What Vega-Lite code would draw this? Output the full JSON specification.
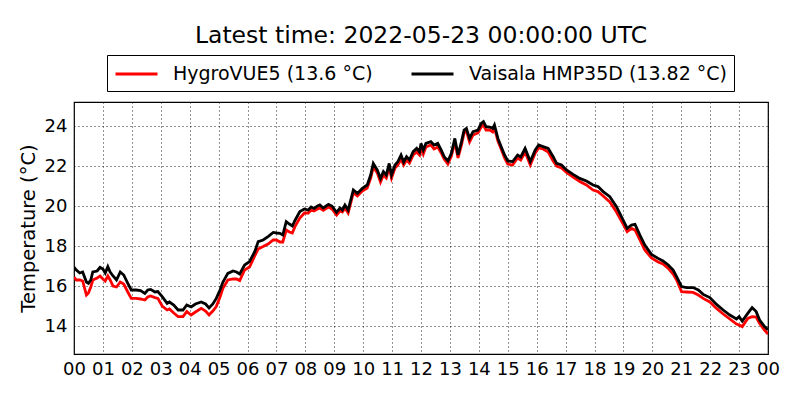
{
  "$schema": "https://vega.github.io/schema/vega-lite/v6.json",
  "width": 694,
  "height": 252,
  "autosize": {"type": "none"},
  "padding": {"left": 74, "top": 102, "right": 32, "bottom": 46},
  "background": "white",
  "title": {
    "text": "Latest time: 2022-05-23 00:00:00 UTC",
    "font": "DejaVu Sans", "fontSize": 23.5, "fontWeight": "normal", "color": "black",
    "anchor": "middle", "frame": "group", "offset": 7
  },
  "data": {
    "values": [
      {"hour": 0.00, "HygroVUE5": 16.45, "Vaisala": 16.95},
      {"hour": 0.08, "HygroVUE5": 16.3, "Vaisala": 16.8},
      {"hour": 0.2, "HygroVUE5": 16.3, "Vaisala": 16.65},
      {"hour": 0.3, "HygroVUE5": 16.25, "Vaisala": 16.7},
      {"hour": 0.43, "HygroVUE5": 15.55, "Vaisala": 16.2},
      {"hour": 0.5, "HygroVUE5": 15.65, "Vaisala": 16.13},
      {"hour": 0.58, "HygroVUE5": 15.95, "Vaisala": 16.3},
      {"hour": 0.65, "HygroVUE5": 16.3, "Vaisala": 16.7},
      {"hour": 0.8, "HygroVUE5": 16.4, "Vaisala": 16.75},
      {"hour": 0.9, "HygroVUE5": 16.5, "Vaisala": 16.93},
      {"hour": 1.0, "HygroVUE5": 16.35, "Vaisala": 16.85},
      {"hour": 1.08, "HygroVUE5": 16.25, "Vaisala": 16.65},
      {"hour": 1.17, "HygroVUE5": 16.5, "Vaisala": 16.97},
      {"hour": 1.25, "HygroVUE5": 16.3, "Vaisala": 16.7},
      {"hour": 1.35, "HygroVUE5": 16.0, "Vaisala": 16.5},
      {"hour": 1.47, "HygroVUE5": 15.95, "Vaisala": 16.3},
      {"hour": 1.6, "HygroVUE5": 16.2, "Vaisala": 16.7},
      {"hour": 1.72, "HygroVUE5": 16.1, "Vaisala": 16.55},
      {"hour": 1.86, "HygroVUE5": 15.7, "Vaisala": 16.13},
      {"hour": 1.98, "HygroVUE5": 15.38, "Vaisala": 15.8},
      {"hour": 2.15, "HygroVUE5": 15.38, "Vaisala": 15.8},
      {"hour": 2.3, "HygroVUE5": 15.35, "Vaisala": 15.77},
      {"hour": 2.45, "HygroVUE5": 15.3, "Vaisala": 15.63},
      {"hour": 2.55, "HygroVUE5": 15.45, "Vaisala": 15.8},
      {"hour": 2.65, "HygroVUE5": 15.5, "Vaisala": 15.83},
      {"hour": 2.8, "HygroVUE5": 15.42, "Vaisala": 15.7},
      {"hour": 2.9, "HygroVUE5": 15.38, "Vaisala": 15.72},
      {"hour": 3.05, "HygroVUE5": 15.0, "Vaisala": 15.47},
      {"hour": 3.22, "HygroVUE5": 14.8, "Vaisala": 15.13},
      {"hour": 3.3, "HygroVUE5": 14.85, "Vaisala": 15.2},
      {"hour": 3.45, "HygroVUE5": 14.65, "Vaisala": 15.05},
      {"hour": 3.6, "HygroVUE5": 14.47, "Vaisala": 14.8},
      {"hour": 3.77, "HygroVUE5": 14.47, "Vaisala": 14.8},
      {"hour": 3.9, "HygroVUE5": 14.72, "Vaisala": 15.05},
      {"hour": 4.05, "HygroVUE5": 14.55, "Vaisala": 14.95},
      {"hour": 4.2, "HygroVUE5": 14.7, "Vaisala": 15.1},
      {"hour": 4.4, "HygroVUE5": 14.88, "Vaisala": 15.2},
      {"hour": 4.55, "HygroVUE5": 14.75, "Vaisala": 15.1},
      {"hour": 4.67, "HygroVUE5": 14.55, "Vaisala": 14.9},
      {"hour": 4.8, "HygroVUE5": 14.75, "Vaisala": 15.1},
      {"hour": 4.92, "HygroVUE5": 14.97, "Vaisala": 15.38},
      {"hour": 5.05, "HygroVUE5": 15.45, "Vaisala": 15.8},
      {"hour": 5.15, "HygroVUE5": 15.88, "Vaisala": 16.2},
      {"hour": 5.32, "HygroVUE5": 16.3, "Vaisala": 16.63},
      {"hour": 5.5, "HygroVUE5": 16.35, "Vaisala": 16.75},
      {"hour": 5.62, "HygroVUE5": 16.35, "Vaisala": 16.7},
      {"hour": 5.73, "HygroVUE5": 16.27, "Vaisala": 16.6},
      {"hour": 5.9, "HygroVUE5": 16.8, "Vaisala": 17.05},
      {"hour": 6.07, "HygroVUE5": 16.95, "Vaisala": 17.22},
      {"hour": 6.25, "HygroVUE5": 17.5, "Vaisala": 17.72},
      {"hour": 6.37, "HygroVUE5": 17.85, "Vaisala": 18.22},
      {"hour": 6.54, "HygroVUE5": 17.97, "Vaisala": 18.3},
      {"hour": 6.71, "HygroVUE5": 18.1, "Vaisala": 18.47},
      {"hour": 6.89, "HygroVUE5": 18.3, "Vaisala": 18.68},
      {"hour": 7.0, "HygroVUE5": 18.3, "Vaisala": 18.65},
      {"hour": 7.12, "HygroVUE5": 18.2, "Vaisala": 18.63},
      {"hour": 7.22, "HygroVUE5": 18.2, "Vaisala": 18.55},
      {"hour": 7.34, "HygroVUE5": 18.8, "Vaisala": 19.22},
      {"hour": 7.45, "HygroVUE5": 18.7, "Vaisala": 19.1},
      {"hour": 7.55, "HygroVUE5": 18.65, "Vaisala": 19.0},
      {"hour": 7.65, "HygroVUE5": 19.0, "Vaisala": 19.3},
      {"hour": 7.81, "HygroVUE5": 19.4, "Vaisala": 19.72},
      {"hour": 7.97, "HygroVUE5": 19.65, "Vaisala": 19.85},
      {"hour": 8.1, "HygroVUE5": 19.65, "Vaisala": 19.8},
      {"hour": 8.2, "HygroVUE5": 19.8, "Vaisala": 19.95},
      {"hour": 8.3, "HygroVUE5": 19.75, "Vaisala": 19.88},
      {"hour": 8.42, "HygroVUE5": 19.85, "Vaisala": 20.0},
      {"hour": 8.5, "HygroVUE5": 19.9, "Vaisala": 20.05},
      {"hour": 8.62, "HygroVUE5": 19.78, "Vaisala": 19.9},
      {"hour": 8.8, "HygroVUE5": 19.95, "Vaisala": 20.08},
      {"hour": 8.92, "HygroVUE5": 19.85, "Vaisala": 20.0},
      {"hour": 9.08, "HygroVUE5": 19.55, "Vaisala": 19.68},
      {"hour": 9.2, "HygroVUE5": 19.75, "Vaisala": 19.9},
      {"hour": 9.28, "HygroVUE5": 19.7, "Vaisala": 19.8},
      {"hour": 9.37, "HygroVUE5": 19.9, "Vaisala": 20.05},
      {"hour": 9.48, "HygroVUE5": 19.65, "Vaisala": 19.8},
      {"hour": 9.66, "HygroVUE5": 20.65, "Vaisala": 20.8},
      {"hour": 9.8, "HygroVUE5": 20.5, "Vaisala": 20.63},
      {"hour": 9.97, "HygroVUE5": 20.75, "Vaisala": 20.88},
      {"hour": 10.14, "HygroVUE5": 20.9, "Vaisala": 21.05},
      {"hour": 10.26, "HygroVUE5": 21.4, "Vaisala": 21.55},
      {"hour": 10.35, "HygroVUE5": 21.95, "Vaisala": 22.13},
      {"hour": 10.49, "HygroVUE5": 21.65, "Vaisala": 21.8},
      {"hour": 10.6, "HygroVUE5": 21.2, "Vaisala": 21.38},
      {"hour": 10.7, "HygroVUE5": 21.55, "Vaisala": 21.72},
      {"hour": 10.8, "HygroVUE5": 21.4, "Vaisala": 21.55},
      {"hour": 10.9, "HygroVUE5": 21.95, "Vaisala": 22.13},
      {"hour": 10.98, "HygroVUE5": 21.4, "Vaisala": 21.55},
      {"hour": 11.1, "HygroVUE5": 21.9, "Vaisala": 22.05},
      {"hour": 11.2, "HygroVUE5": 22.05, "Vaisala": 22.22},
      {"hour": 11.31, "HygroVUE5": 22.35, "Vaisala": 22.55},
      {"hour": 11.4, "HygroVUE5": 22.05, "Vaisala": 22.2},
      {"hour": 11.5, "HygroVUE5": 22.3, "Vaisala": 22.47},
      {"hour": 11.6, "HygroVUE5": 22.15, "Vaisala": 22.3},
      {"hour": 11.73, "HygroVUE5": 22.55, "Vaisala": 22.72},
      {"hour": 11.85, "HygroVUE5": 22.7, "Vaisala": 22.88},
      {"hour": 11.95, "HygroVUE5": 22.55, "Vaisala": 22.7},
      {"hour": 12.0, "HygroVUE5": 22.95, "Vaisala": 23.13},
      {"hour": 12.08, "HygroVUE5": 22.6, "Vaisala": 22.8},
      {"hour": 12.17, "HygroVUE5": 22.95, "Vaisala": 23.13},
      {"hour": 12.34, "HygroVUE5": 23.05, "Vaisala": 23.22},
      {"hour": 12.45, "HygroVUE5": 22.85, "Vaisala": 23.05},
      {"hour": 12.58, "HygroVUE5": 22.95, "Vaisala": 23.13},
      {"hour": 12.7, "HygroVUE5": 22.65, "Vaisala": 22.8},
      {"hour": 12.8, "HygroVUE5": 22.35, "Vaisala": 22.47},
      {"hour": 12.93, "HygroVUE5": 22.1, "Vaisala": 22.25},
      {"hour": 13.05, "HygroVUE5": 22.5, "Vaisala": 22.63},
      {"hour": 13.17, "HygroVUE5": 23.2, "Vaisala": 23.38},
      {"hour": 13.28, "HygroVUE5": 22.4, "Vaisala": 22.55},
      {"hour": 13.4, "HygroVUE5": 23.05, "Vaisala": 23.22},
      {"hour": 13.49, "HygroVUE5": 23.65, "Vaisala": 23.8},
      {"hour": 13.57, "HygroVUE5": 23.75, "Vaisala": 23.88},
      {"hour": 13.68, "HygroVUE5": 23.2, "Vaisala": 23.38},
      {"hour": 13.8, "HygroVUE5": 23.55, "Vaisala": 23.72},
      {"hour": 13.97, "HygroVUE5": 23.65, "Vaisala": 23.8},
      {"hour": 14.08, "HygroVUE5": 23.95, "Vaisala": 24.13},
      {"hour": 14.16, "HygroVUE5": 24.05, "Vaisala": 24.22},
      {"hour": 14.25, "HygroVUE5": 23.8, "Vaisala": 23.97},
      {"hour": 14.38, "HygroVUE5": 23.8, "Vaisala": 23.95},
      {"hour": 14.48, "HygroVUE5": 23.7, "Vaisala": 23.88},
      {"hour": 14.54, "HygroVUE5": 23.9, "Vaisala": 24.05},
      {"hour": 14.66, "HygroVUE5": 23.25, "Vaisala": 23.38},
      {"hour": 14.77, "HygroVUE5": 22.85, "Vaisala": 22.97},
      {"hour": 14.89, "HygroVUE5": 22.4, "Vaisala": 22.55},
      {"hour": 15.0, "HygroVUE5": 22.1, "Vaisala": 22.25},
      {"hour": 15.17, "HygroVUE5": 22.05, "Vaisala": 22.22},
      {"hour": 15.34, "HygroVUE5": 22.4, "Vaisala": 22.55},
      {"hour": 15.45, "HygroVUE5": 22.3, "Vaisala": 22.45},
      {"hour": 15.6, "HygroVUE5": 22.7, "Vaisala": 22.88},
      {"hour": 15.78, "HygroVUE5": 22.05, "Vaisala": 22.22},
      {"hour": 15.95, "HygroVUE5": 22.65, "Vaisala": 22.8},
      {"hour": 16.07, "HygroVUE5": 22.9, "Vaisala": 23.05},
      {"hour": 16.22, "HygroVUE5": 22.85, "Vaisala": 22.97},
      {"hour": 16.4, "HygroVUE5": 22.7, "Vaisala": 22.88},
      {"hour": 16.57, "HygroVUE5": 22.25, "Vaisala": 22.47},
      {"hour": 16.69, "HygroVUE5": 22.0, "Vaisala": 22.13},
      {"hour": 16.86, "HygroVUE5": 21.9, "Vaisala": 22.05},
      {"hour": 17.03, "HygroVUE5": 21.68, "Vaisala": 21.8},
      {"hour": 17.26, "HygroVUE5": 21.45, "Vaisala": 21.58},
      {"hour": 17.49, "HygroVUE5": 21.22, "Vaisala": 21.38},
      {"hour": 17.72, "HygroVUE5": 21.05, "Vaisala": 21.25},
      {"hour": 17.95, "HygroVUE5": 20.8, "Vaisala": 21.05},
      {"hour": 18.12, "HygroVUE5": 20.72, "Vaisala": 20.97},
      {"hour": 18.3, "HygroVUE5": 20.5, "Vaisala": 20.72},
      {"hour": 18.53, "HygroVUE5": 20.2, "Vaisala": 20.47},
      {"hour": 18.76, "HygroVUE5": 19.7, "Vaisala": 19.97},
      {"hour": 18.99, "HygroVUE5": 19.1, "Vaisala": 19.3},
      {"hour": 19.13, "HygroVUE5": 18.72, "Vaisala": 18.88},
      {"hour": 19.28, "HygroVUE5": 18.88, "Vaisala": 19.05},
      {"hour": 19.4, "HygroVUE5": 18.8, "Vaisala": 19.08},
      {"hour": 19.57, "HygroVUE5": 18.3, "Vaisala": 18.55},
      {"hour": 19.74, "HygroVUE5": 17.8, "Vaisala": 18.05},
      {"hour": 19.97, "HygroVUE5": 17.4, "Vaisala": 17.58},
      {"hour": 20.2, "HygroVUE5": 17.2, "Vaisala": 17.38},
      {"hour": 20.37, "HygroVUE5": 17.1, "Vaisala": 17.25},
      {"hour": 20.55, "HygroVUE5": 16.88, "Vaisala": 17.05},
      {"hour": 20.72, "HygroVUE5": 16.6, "Vaisala": 16.8},
      {"hour": 20.84, "HygroVUE5": 16.3, "Vaisala": 16.47},
      {"hour": 21.01, "HygroVUE5": 15.72, "Vaisala": 15.97},
      {"hour": 21.18, "HygroVUE5": 15.7, "Vaisala": 15.92},
      {"hour": 21.41, "HygroVUE5": 15.68, "Vaisala": 15.92},
      {"hour": 21.59, "HygroVUE5": 15.55, "Vaisala": 15.8},
      {"hour": 21.76, "HygroVUE5": 15.38, "Vaisala": 15.58},
      {"hour": 21.99, "HygroVUE5": 15.2, "Vaisala": 15.42},
      {"hour": 22.22, "HygroVUE5": 14.88, "Vaisala": 15.08},
      {"hour": 22.45, "HygroVUE5": 14.6, "Vaisala": 14.8},
      {"hour": 22.68, "HygroVUE5": 14.35, "Vaisala": 14.55},
      {"hour": 22.91, "HygroVUE5": 14.1, "Vaisala": 14.35},
      {"hour": 23.0, "HygroVUE5": 14.05, "Vaisala": 14.47},
      {"hour": 23.11, "HygroVUE5": 13.97, "Vaisala": 14.25},
      {"hour": 23.3, "HygroVUE5": 14.38, "Vaisala": 14.63},
      {"hour": 23.45, "HygroVUE5": 14.47, "Vaisala": 14.92},
      {"hour": 23.59, "HygroVUE5": 14.45, "Vaisala": 14.72},
      {"hour": 23.71, "HygroVUE5": 14.13, "Vaisala": 14.3},
      {"hour": 23.88, "HygroVUE5": 13.8, "Vaisala": 13.97},
      {"hour": 24.0, "HygroVUE5": 13.6, "Vaisala": 13.82}
    ]
  },
  "transform": [{"fold": ["HygroVUE5", "Vaisala"], "as": ["sensor", "temp"]}],
  "mark": {"type": "line", "strokeWidth": 2.8, "clip": true},
  "encoding": {
    "x": {
      "field": "hour", "type": "quantitative",
      "scale": {"domain": [0, 24], "nice": false, "zero": false},
      "axis": {
        "title": null,
        "values": [0, 1, 2, 3, 4, 5, 6, 7, 8, 9, 10, 11, 12, 13, 14, 15, 16, 17, 18, 19, 20, 21, 22, 23, 24],
        "labelExpr": "datum.value == 24 ? '00' : (datum.value < 10 ? '0' + datum.value : '' + datum.value)",
        "labelOverlap": false,
        "labelFlush": false,
        "labelPadding": 6
      }
    },
    "y": {
      "field": "temp", "type": "quantitative",
      "scale": {"domain": [12.6, 25.2], "nice": false, "zero": false},
      "axis": {
        "title": "Temperature (°C)",
        "values": [14, 16, 18, 20, 22, 24],
        "labelOverlap": false,
        "labelFlush": false,
        "labelPadding": 7,
        "titlePadding": 6
      }
    },
    "color": {
      "field": "sensor", "type": "nominal",
      "scale": {"domain": ["HygroVUE5", "Vaisala"], "range": ["#ff0000", "#000000"]},
      "legend": {
        "title": null,
        "orient": "none",
        "legendX": 33,
        "legendY": -47,
        "direction": "horizontal",
        "labelExpr": "datum.label == 'HygroVUE5' ? 'HygroVUE5 (13.6 °C)' : 'Vaisala HMP35D (13.82 °C)'",
        "strokeColor": "black",
        "fillColor": "white",
        "padding": 7,
        "symbolType": "M-1,0H3",
        "symbolSize": 441,
        "symbolStrokeWidth": 2.8,
        "symbolFillColor": "transparent",
        "labelFont": "DejaVu Sans",
        "labelFontSize": 19,
        "labelColor": "black",
        "labelOffset": 35,
        "labelLimit": 400,
        "columnPadding": 32,
        "cornerRadius": 0
      }
    }
  },
  "config": {
    "view": {"stroke": "black", "strokeWidth": 1.2},
    "axis": {
      "domain": false,
      "ticks": false,
      "grid": true,
      "gridColor": "black",
      "gridDash": [1, 3],
      "gridWidth": 1,
      "gridOpacity": 0.85,
      "labelFont": "DejaVu Sans",
      "labelFontSize": 18,
      "labelColor": "black",
      "titleFont": "DejaVu Sans",
      "titleFontSize": 19.5,
      "titleFontWeight": "normal",
      "titleColor": "black"
    }
  }
}
